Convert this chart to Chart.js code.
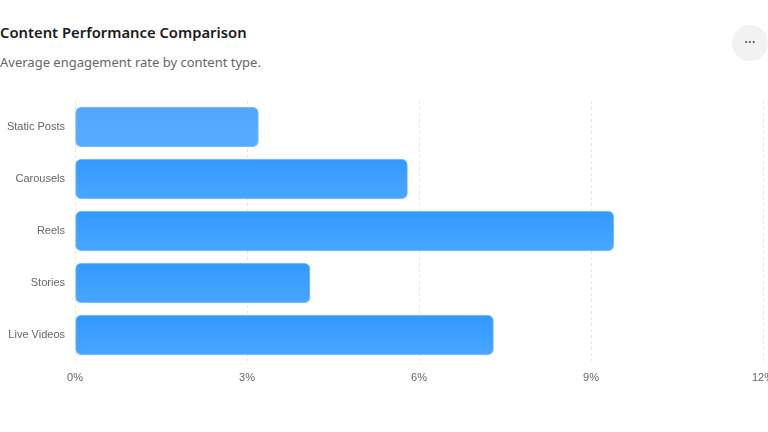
<!DOCTYPE html>
<html>
<head>
<meta charset="utf-8">
<script src="https://cdn.jsdelivr.net/npm/chart.js@4"></script>
<style>
    html, body { margin: 0; padding: 0; background: #fff; width: 768px; height: 432px; overflow: hidden; }
    body { position: relative; font-family: "Noto Sans", "Open Sans", sans-serif; }
    .title { position: absolute; left: 0; top: 22px; font-size: 14.8px; font-weight: 600; color: #1a1a1a; }
    .subtitle { position: absolute; left: 0; top: 53px; font-size: 13px; color: #666; }
    .more { position: absolute; left: 732px; top: 25px; width: 36px; height: 36px; border-radius: 50%;
        background: #f2f2f2; color: #444; font-size: 14px; line-height: 33px; text-align: center; }
    .wrap { position: absolute; left: 0; top: 93px; width: 780px; height: 298px; }
</style>
</head>
<body>
<div class="title">Content Performance Comparison</div>
<div class="subtitle">Average engagement rate by content type.</div>
<div class="more">···</div>
<div class="wrap"><canvas id="perf-chart"></canvas></div>
<script>
// Chart data
const contentTypes = ['Static Posts', 'Carousels', 'Reels', 'Stories', 'Live Videos'];
const engagementRates = [3.2, 5.8, 9.4, 4.1, 7.3];
const xTicks = [0, 3, 6, 9, 12];

const tickFont = { family: '"Liberation Sans", sans-serif', size: 11 };

/**
 * Vertical gradient for each bar, the first one is a lighter blue
 */
function barFill(context) {
    const light = context.dataIndex === 0;
    const chart = context.chart;
    const yScale = chart.scales && chart.scales.y;
    if (!chart.chartArea || !yScale) return light ? '#52a9ff' : '#3a9dff';
    const center = yScale.getPixelForValue(context.dataIndex);
    if (!isFinite(center)) return light ? '#52a9ff' : '#3a9dff';
    const g = chart.ctx.createLinearGradient(0, center - 20, 0, center + 20);
    if (light) {
        g.addColorStop(0, '#50a8ff');
        g.addColorStop(1, '#57acff');
    } else {
        g.addColorStop(0, '#3399ff');
        g.addColorStop(1, '#48a6ff');
    }
    return g;
}

new Chart(document.getElementById('perf-chart'), {
    type: 'bar',
    data: {
        labels: contentTypes,
        datasets: [{
            label: 'Engagement rate',
            data: engagementRates,
            backgroundColor: barFill,
            borderColor: 'rgba(120, 190, 255, 0.9)',
            borderWidth: 1,
            borderRadius: 6,
            borderSkipped: false,
            barThickness: 40
        }]
    },
    options: {
        indexAxis: 'y',
        responsive: true,
        maintainAspectRatio: false,
        animation: false,
        layout: { padding: { top: 8, right: 17, left: 0, bottom: 0 } },
        plugins: {
            legend: { display: false },
            tooltip: { enabled: false }
        },
        scales: {
            x: {
                min: 0,
                max: 12,
                afterBuildTicks: (scale) => {
                    scale.ticks = xTicks.map(v => ({ value: v }));
                },
                afterFit: (scale) => {
                    scale.height = 30;
                    scale.paddingRight = 0;
                    scale.paddingLeft = 0;
                },
                ticks: {
                    color: '#666',
                    font: tickFont,
                    padding: 10,
                    callback: (v) => v + '%'
                },
                grid: {
                    color: '#e6e6e6',
                    drawTicks: false
                },
                border: { display: false, dash: [3, 3] }
            },
            y: {
                afterFit: (scale) => {
                    scale.width = 75;
                    scale.paddingTop = 0;
                    scale.paddingBottom = 0;
                },
                ticks: {
                    color: '#666',
                    font: tickFont,
                    padding: 10
                },
                grid: { display: false, drawTicks: false },
                border: { display: false }
            }
        }
    }
});
</script>
</body>
</html>
